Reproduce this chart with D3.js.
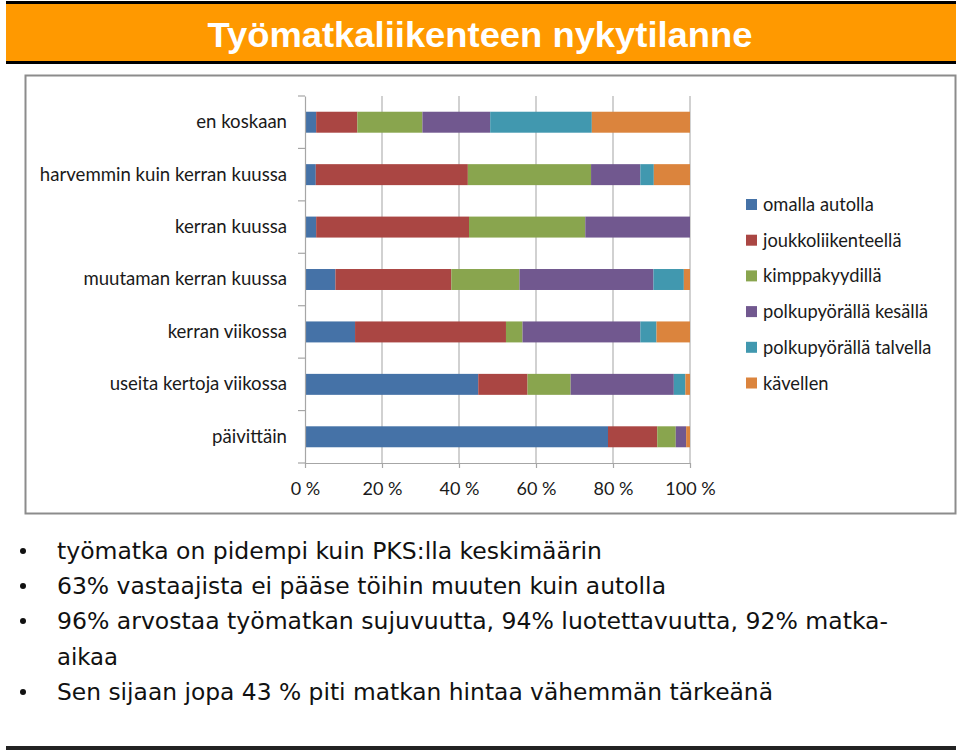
<!DOCTYPE html>
<html>
<head>
<meta charset="utf-8">
<script src="https://cdn.jsdelivr.net/npm/d3@7"></script>
<style>
  body { margin: 0; background: #fff; }
  svg { display: block; }
</style>
</head>
<body>
<div id="chart"></div>
<script>
const WIDTH = 960;
const HEIGHT = 753;

// data (percent of answers)
const CATEGORIES = [
  "en koskaan",
  "harvemmin kuin kerran kuussa",
  "kerran kuussa",
  "muutaman kerran kuussa",
  "kerran viikossa",
  "useita kertoja viikossa",
  "päivittäin"
];
const SERIES = [
  "omalla autolla",
  "joukkoliikenteellä",
  "kimppakyydillä",
  "polkupyörällä kesällä",
  "polkupyörällä talvella",
  "kävellen"
];
const OMALLA_AUTOLLA = [2.9, 2.8, 2.9, 7.9, 13.0, 45.0, 78.7];
const JOUKKOLIIKENTEELLA = [10.7, 39.5, 39.7, 30.1, 39.2, 12.8, 12.8];
const KIMPPAKYYDILLA = [16.9, 32.0, 30.2, 17.7, 4.3, 11.2, 4.8];
const POLKUPYORA_KESA = [17.6, 12.8, 27.2, 34.8, 30.6, 26.8, 2.7];
const POLKUPYORA_TALVI = [26.4, 3.5, 0, 7.9, 4.2, 3.0, 0];
const KAVELLEN = [25.5, 9.4, 0, 1.6, 8.7, 1.2, 1.0];
const X_TICKS = [0, 0.2, 0.4, 0.6, 0.8, 1.0];

const TITLE = "Työmatkaliikenteen nykytilanne";
const BULLETS = [
  "työmatka on pidempi kuin PKS:lla keskimäärin",
  "63% vastaajista ei pääse töihin muuten kuin autolla",
  "96% arvostaa työmatkan sujuvuutta, 94% luotettavuutta,  92% matka-",
  "Sen sijaan jopa 43 % piti matkan hintaa vähemmän tärkeänä"
];

const COLORS = ["#4572A7", "#AA4643", "#89A54E", "#71588F", "#4198AF", "#DB843D"];

const svg = d3.select("#chart")
  .append("svg")
  .attr("width", WIDTH)
  .attr("height", HEIGHT);

// title bar
svg.append("rect").attr("x", 6).attr("y", 1).attr("width", 950).attr("height", 63).attr("fill", "#000");
svg.append("rect").attr("x", 6).attr("y", 4).attr("width", 950).attr("height", 57).attr("fill", "#FF9900");
svg.append("text")
  .attr("x", 480)
  .attr("y", 47)
  .attr("text-anchor", "middle")
  .attr("fill", "#fff")
  .attr("font-family", "'Liberation Sans Narrow', 'Liberation Sans', Arial, sans-serif")
  .attr("font-weight", "bold")
  .attr("font-size", "35px")
  .attr("textLength", 545)
  .attr("lengthAdjust", "spacingAndGlyphs")
  .text(TITLE);

// chart frame
svg.append("rect")
  .attr("x", 25.5).attr("y", 75.5)
  .attr("width", 930).attr("height", 438)
  .attr("fill", "#fff")
  .attr("stroke", "#8c8c8c")
  .attr("stroke-width", 2);

const PLOT = { left: 305, right: 690, top: 96, bottom: 463 };

const rows = CATEGORIES.map((c, i) => ({
  cat: c,
  s0: OMALLA_AUTOLLA[i],
  s1: JOUKKOLIIKENTEELLA[i],
  s2: KIMPPAKYYDILLA[i],
  s3: POLKUPYORA_KESA[i],
  s4: POLKUPYORA_TALVI[i],
  s5: KAVELLEN[i]
}));

const stacked = d3.stack()
  .keys(["s0", "s1", "s2", "s3", "s4", "s5"])
  .offset(d3.stackOffsetExpand)(rows);

const X_SCALE = d3.scaleLinear().domain([0, 1]).range([PLOT.left, PLOT.right]);
const Y_SCALE = d3.scaleBand()
  .domain(CATEGORIES)
  .range([PLOT.top, PLOT.bottom])
  .paddingInner(0.6)
  .paddingOuter(0.3);

// gridlines
svg.append("g")
  .selectAll("line")
  .data(X_TICKS.slice(1))
  .enter()
  .append("line")
  .attr("x1", (d) => X_SCALE(d))
  .attr("x2", (d) => X_SCALE(d))
  .attr("y1", PLOT.top)
  .attr("y2", PLOT.bottom)
  .attr("stroke", "#b3b3b3")
  .attr("stroke-width", 1.2);

// bars
svg.append("g")
  .selectAll("g")
  .data(stacked)
  .enter()
  .append("g")
  .attr("fill", (d, i) => COLORS[i])
  .selectAll("rect")
  .data((d) => d)
  .enter()
  .append("rect")
  .attr("x", (d) => X_SCALE(d[0]))
  .attr("y", (d) => Y_SCALE(d.data.cat))
  .attr("width", (d) => X_SCALE(d[1]) - X_SCALE(d[0]))
  .attr("height", Y_SCALE.bandwidth());

// axes
const CAT_FONT = "Lato, 'Open Sans', sans-serif";

const yAxis = svg.append("g")
  .attr("transform", "translate(" + PLOT.left + ",0)")
  .call(d3.axisLeft(Y_SCALE).tickSize(0).tickPadding(18));
yAxis.select(".domain").attr("stroke", "#a6a6a6").attr("stroke-width", 1.2);
yAxis.selectAll("text")
  .attr("font-family", CAT_FONT)
  .attr("font-size", "18.6px")
  .attr("fill", "#1a1a1a");

// tick marks between categories
yAxis.selectAll(".sep")
  .data(d3.range(CATEGORIES.length + 1))
  .enter()
  .append("line")
  .attr("x1", -7)
  .attr("x2", 0)
  .attr("y1", (i) => PLOT.top + i * Y_SCALE.step())
  .attr("y2", (i) => PLOT.top + i * Y_SCALE.step())
  .attr("stroke", "#a6a6a6")
  .attr("stroke-width", 1.2);

const xAxis = svg.append("g")
  .attr("transform", "translate(0," + PLOT.bottom + ")")
  .call(d3.axisBottom(X_SCALE)
    .tickValues(X_TICKS)
    .tickSize(5)
    .tickPadding(14)
    .tickSizeOuter(0)
    .tickFormat((d) => Math.round(d * 100) + " %"));
xAxis.select(".domain").attr("stroke", "#a6a6a6").attr("stroke-width", 1.2);
xAxis.selectAll(".tick line").attr("stroke", "#a6a6a6").attr("stroke-width", 1.2);
xAxis.selectAll("text")
  .attr("font-family", CAT_FONT)
  .attr("font-size", "18px")
  .attr("fill", "#1a1a1a");

// legend
const legend = svg.append("g")
  .attr("transform", "translate(746,199)");
const legendItem = legend.selectAll("g")
  .data(SERIES)
  .enter()
  .append("g")
  .attr("transform", (d, i) => "translate(0," + i * 35.7 + ")");
legendItem.append("rect")
  .attr("width", 11)
  .attr("height", 11)
  .attr("fill", (d, i) => COLORS[i]);
legendItem.append("text")
  .attr("x", 17)
  .attr("y", 12)
  .attr("font-family", CAT_FONT)
  .attr("font-size", "18.3px")
  .attr("fill", "#1a1a1a")
  .text((d) => d);

// bullet text below the chart
const BULLET_FONT = "'Liberation Sans Narrow', 'DejaVu Sans Condensed', Arial, sans-serif";
const lines = [
  { text: BULLETS[0], y: 559, len: 545, bullet: true },
  { text: BULLETS[1], y: 594, len: 609, bullet: true },
  { text: BULLETS[2], y: 629, len: 831, bullet: true },
  { text: "aikaa", y: 665, len: 61, bullet: false },
  { text: BULLETS[3], y: 700, len: 716, bullet: true }
];
const textG = svg.append("g");
textG.selectAll("text.line")
  .data(lines)
  .enter()
  .append("text")
  .attr("class", "line")
  .attr("x", 57)
  .attr("y", (d) => d.y)
  .attr("font-family", BULLET_FONT)
  .attr("font-size", "23px")
  .attr("fill", "#111")
  .attr("textLength", (d) => d.len)
  .attr("lengthAdjust", "spacingAndGlyphs")
  .text((d) => d.text);
textG.selectAll("circle")
  .data(lines.filter((d) => d.bullet))
  .enter()
  .append("circle")
  .attr("cx", 23)
  .attr("cy", (d) => d.y - 8)
  .attr("r", 3)
  .attr("fill", "#111");

// bottom rule
svg.append("rect").attr("x", 6).attr("y", 746).attr("width", 950).attr("height", 4).attr("fill", "#222");
</script>
</body>
</html>
